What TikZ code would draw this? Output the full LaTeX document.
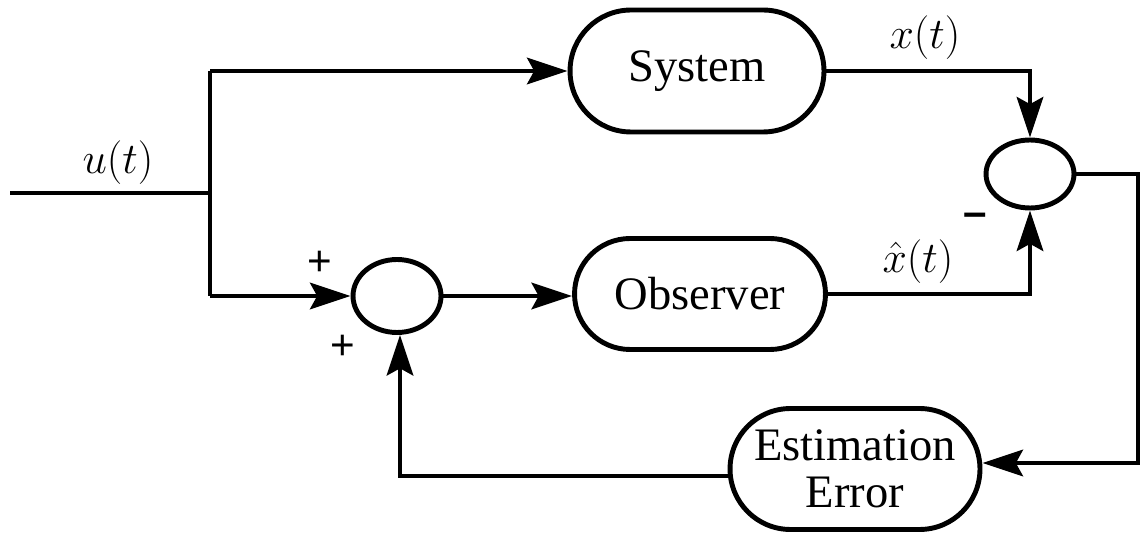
\documentclass[tikz,border=0pt]{standalone}
\usepackage{fontspec}
\setmainfont{Liberation Serif}
\newfontfamily\signfont{Liberation Sans}
\usetikzlibrary{arrows.meta,shapes.misc,shapes.geometric}
\begin{document}
\begin{tikzpicture}[x=0.02cm,y=-0.02cm,
  wire/.style={line width=2.8pt,line join=miter},
  arr/.style={wire,-{Stealth[length=23pt,width=15pt,inset=4pt]}},
  blockbox/.style={draw,line width=2.8pt,rounded rectangle,
    inner sep=0pt,font=\fontsize{26.5}{27}\selectfont,align=center},
  sumnode/.style={draw,line width=2.8pt,ellipse,minimum width=1.76cm,inner sep=0pt},
  lbl/.style={font=\fontsize{26}{30}\selectfont,inner sep=1pt},
  sign/.style={font=\signfont\fontsize{24}{28}\selectfont,inner sep=1pt}]
\useasboundingbox (0,0) rectangle (1141,536);

% blocks
\node[blockbox,minimum width=5.08cm,minimum height=2.44cm] (sys) at (697,71) {System};
\node[blockbox,minimum width=5.02cm,minimum height=2.22cm] (obs) at (700,294) {Observer};
\node[blockbox,minimum width=5.0cm,minimum height=2.42cm] (est) at (855,469) {Estimation\\Error};

% summing junctions
\node[sumnode,minimum height=1.36cm] (sumR) at (1030,174) {};
\node[sumnode,minimum height=1.46cm] (sumL) at (397,296) {};

% input and branch point
\coordinate (in) at (10,193);
\coordinate (br) at (210,193);
\coordinate (brT) at (210,71);
\coordinate (brB) at (210,296);
\draw[wire] (in) -- (br);
\draw[wire] (brT) -- (brB);
\draw[arr] (brT) -- (sys.west);
\draw[arr] (brB) -- (sumL.west);

% forward paths
\draw[arr] (sumL.east) -- (sumL.east -| obs.west);
\coordinate (xc) at (1030,71);
\draw[arr] (sys.east |- xc) -- (xc) -- (sumR.north);
\coordinate (xh) at (1030,294);
\draw[arr] (obs.east |- xh) -- (xh) -- (sumR.south);

% error feedback
\coordinate (e1) at (1138,174);
\coordinate (e2) at (1138,463);
\draw[arr] (sumR.east) -- (e1) -- (e2) -- (e2 -| est.east);
\coordinate (f1) at (400,476);
\draw[arr] (est.west |- f1) -- (f1) -- (sumL.south -| f1);

% labels
\node[lbl] (lu) at (118,163) {$u(t)$};
\node[lbl] (lx) at (925,38) {$x(t)$};
\node[lbl] (lxh) at (918,262) {$\hat{x}(t)$};
\node[sign] (p1) at (320,263) {+};
\node[sign] (p2) at (343,347) {+};
\node[sign] (m1) at (975,220) {\textbf{\char"2013}};
\end{tikzpicture}
\end{document}
